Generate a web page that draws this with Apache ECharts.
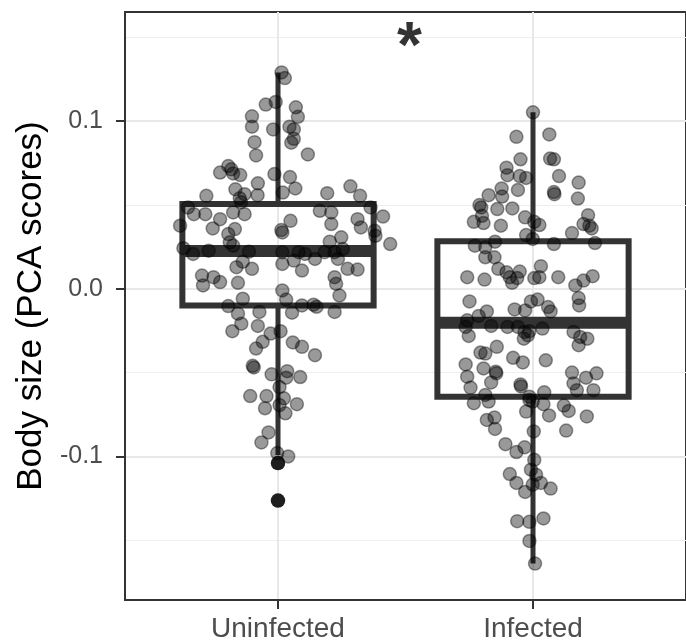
<!DOCTYPE html>
<html>
<head>
<meta charset="utf-8">
<script src="https://cdn.jsdelivr.net/npm/echarts@6/dist/echarts.min.js"></script>
<style>
  html, body { margin: 0; padding: 0; background: #fff; }
  #bodySizeChart { width: 686px; height: 643px; }
</style>
</head>
<body>
<div id="bodySizeChart"></div>
<script>
// groups on the x axis (positions 1 and 2)
const groups = ['Uninfected', 'Infected'];

// box statistics: [lower whisker, Q1, median, Q3, upper whisker]
const uninfectedBox = [-0.0990, -0.0100, 0.0225, 0.0505, 0.1290];
const infectedBox = [-0.1638, -0.0643, -0.0202, 0.0283, 0.1052];
const uninfectedOutliers = [-0.1039, -0.1262];

// jittered points: horizontal jitter offset and PCA score
const uninfectedJitter = [
  0.014, 0.027, -0.009, -0.048, 0.070, -0.102, 0.078, -0.102, -0.019, 0.045,
  0.062, 0.062, 0.052, -0.092, -0.086, 0.117, -0.195, -0.183, -0.227, -0.148,
  -0.176, -0.014, 0.047, -0.079, 0.068, -0.167, 0.284, 0.193, -0.281, -0.131,
  -0.080, 0.019, 0.322, -0.150, -0.145, -0.353, -0.330, -0.285, -0.384, -0.227,
  -0.256, -0.176, -0.131, -0.169, -0.195, -0.189, -0.176, -0.371, -0.333, -0.272,
  -0.114, 0.017, 0.013, 0.049, 0.164, 0.209, 0.209, 0.312, 0.325, 0.363,
  0.412, 0.379, 0.382, 0.440, 0.203, 0.248, 0.254, 0.222, 0.183, 0.145,
  0.106, 0.081, 0.062, 0.017, 0.017, 0.094, 0.235, 0.273, 0.312, 0.222,
  0.228, 0.241, -0.298, -0.294, -0.253, -0.227, -0.157, -0.163, -0.138, -0.102,
  0.017, 0.032, -0.138, -0.195, -0.157, -0.073, 0.094, 0.139, 0.151, 0.055,
  0.222, -0.144, -0.179, -0.079, -0.029, 0.010, -0.060, -0.086, 0.058, 0.094,
  0.145, -0.099, -0.095, -0.025, 0.036, 0.032, 0.087, 0.006, -0.109, -0.045,
  0.023, 0.006, 0.074, -0.051, 0.029, -0.037, -0.065, -0.003, 0.040
];
const uninfectedScores = [
  0.1290, 0.1256, 0.1114, 0.1098, 0.1082, 0.1028, 0.1025, 0.0966, 0.0950, 0.0966,
  0.0950, 0.0894, 0.0871, 0.0874, 0.0795, 0.0801, 0.0732, 0.0712, 0.0693, 0.0678,
  0.0688, 0.0684, 0.0666, 0.0629, 0.0598, 0.0593, 0.0611, 0.0570, 0.0554, 0.0564,
  0.0558, 0.0574, 0.0554, 0.0540, 0.0516, 0.0485, 0.0445, 0.0445, 0.0376, 0.0415,
  0.0360, 0.0455, 0.0445, 0.0356, 0.0326, 0.0277, 0.0257, 0.0242, 0.0208, 0.0227,
  0.0221, 0.0336, 0.0350, 0.0405, 0.0465, 0.0455, 0.0386, 0.0415, 0.0366, 0.0485,
  0.0431, 0.0346, 0.0316, 0.0267, 0.0281, 0.0307, 0.0237, 0.0218, 0.0218, 0.0178,
  0.0208, 0.0218, 0.0168, 0.0218, 0.0148, 0.0109, 0.0178, 0.0119, 0.0115, 0.0069,
  0.0030, -0.0040, 0.0079, 0.0020, 0.0069, 0.0040, 0.0036, 0.0129, 0.0162, 0.0119,
  -0.0010, -0.0064, -0.0059, -0.0103, -0.0148, -0.0138, -0.0099, -0.0095, -0.0107, -0.0142,
  -0.0138, -0.0208, -0.0253, -0.0221, -0.0267, -0.0253, -0.0316, -0.0356, -0.0320, -0.0346,
  -0.0396, -0.0459, -0.0469, -0.0510, -0.0491, -0.0530, -0.0526, -0.0586, -0.0639, -0.0639,
  -0.0653, -0.0693, -0.0688, -0.0712, -0.0742, -0.0856, -0.0916, -0.0979, -0.0999
];
const infectedJitter = [
  0.000, -0.065, 0.064, -0.049, 0.067, 0.082, -0.104, -0.100, -0.052, -0.027,
  0.102, 0.179, -0.123, -0.059, 0.082, 0.084, -0.174, -0.121, 0.176, -0.210,
  -0.203, -0.140, -0.081, -0.200, -0.232, -0.194, -0.031, 0.005, 0.025, 0.216,
  0.198, 0.221, 0.230, -0.126, 0.153, -0.027, -0.001, -0.149, -0.228, -0.187,
  0.082, 0.243, -0.151, -0.187, -0.136, -0.104, -0.091, -0.082, -0.052, -0.062,
  0.031, 0.005, 0.025, 0.099, -0.258, -0.190, 0.166, 0.198, 0.234, 0.179,
  0.181, -0.249, -0.072, -0.031, -0.008, 0.018, 0.059, 0.069, -0.181, -0.213,
  -0.258, -0.264, -0.252, -0.164, -0.100, -0.059, -0.033, -0.014, 0.037, -0.020,
  -0.036, 0.159, 0.185, 0.213, 0.179, -0.142, -0.206, -0.187, -0.078, -0.040,
  0.050, -0.264, -0.258, -0.245, -0.194, -0.146, -0.144, -0.164, -0.049, -0.047,
  0.153, 0.159, 0.208, 0.249, 0.172, 0.237, 0.044, -0.014, -0.187, -0.232,
  -0.174, -0.014, -0.001, 0.041, -0.027, 0.063, 0.121, 0.140, 0.211, -0.181,
  -0.151, -0.149, 0.003, 0.130, -0.108, -0.065, -0.033, 0.005, -0.008, 0.012,
  -0.091, -0.065, -0.001, 0.031, 0.069, -0.031, -0.062, -0.014, 0.041, -0.014,
  0.008
];
const infectedScores = [
  0.1052, 0.0906, 0.0920, 0.0772, 0.0776, 0.0772, 0.0722, 0.0677, 0.0672, 0.0661,
  0.0672, 0.0633, 0.0598, 0.0589, 0.0577, 0.0564, 0.0558, 0.0550, 0.0538, 0.0499,
  0.0485, 0.0475, 0.0479, 0.0435, 0.0399, 0.0392, 0.0426, 0.0399, 0.0380, 0.0439,
  0.0386, 0.0376, 0.0360, 0.0376, 0.0332, 0.0320, 0.0297, 0.0281, 0.0257, 0.0247,
  0.0267, 0.0273, 0.0188, 0.0188, 0.0119, 0.0099, 0.0069, 0.0036, 0.0103, 0.0064,
  0.0135, 0.0064, 0.0069, 0.0069, 0.0069, 0.0055, 0.0020, 0.0049, 0.0075, -0.0055,
  -0.0099, -0.0075, -0.0123, -0.0129, -0.0075, -0.0064, -0.0109, -0.0135, -0.0135, -0.0162,
  -0.0188, -0.0227, -0.0281, -0.0221, -0.0227, -0.0227, -0.0257, -0.0253, -0.0237, -0.0277,
  -0.0297, -0.0257, -0.0287, -0.0297, -0.0336, -0.0346, -0.0380, -0.0386, -0.0411, -0.0439,
  -0.0426, -0.0451, -0.0524, -0.0589, -0.0475, -0.0494, -0.0504, -0.0558, -0.0570, -0.0582,
  -0.0499, -0.0564, -0.0530, -0.0504, -0.0604, -0.0604, -0.0617, -0.0643, -0.0633, -0.0682,
  -0.0672, -0.0663, -0.0672, -0.0688, -0.0732, -0.0755, -0.0696, -0.0728, -0.0761, -0.0782,
  -0.0767, -0.0835, -0.0850, -0.0845, -0.0926, -0.0973, -0.0945, -0.1019, -0.1078, -0.1108,
  -0.1104, -0.1157, -0.1167, -0.1157, -0.1191, -0.1211, -0.1385, -0.1389, -0.1369, -0.1503,
  -0.1638
];

// y axis ticks and grid
const majorTicks = [-0.1, 0.0, 0.1];
const minorTicks = [-0.15, -0.05, 0.05, 0.15];

const BOX_WIDTH = 0.75;
const FONT = '"Liberation Sans", Arial, sans-serif';

function jitterPoints(pos, offsets, scores) {
  return scores.map((s, i) => [pos + offsets[i], s]);
}

function renderBox(params, api) {
  const x = api.value(0);
  const lo = api.coord([x, api.value(1)]);
  const q1 = api.coord([x, api.value(2)]);
  const md = api.coord([x, api.value(3)]);
  const q3 = api.coord([x, api.value(4)]);
  const hi = api.coord([x, api.value(5)]);
  const half = api.size([BOX_WIDTH, 0])[0] / 2;
  const ink = { stroke: '#333333', fill: null, lineWidth: 5 };
  return {
    type: 'group',
    children: [
      { type: 'line', shape: { x1: hi[0], y1: hi[1], x2: q3[0], y2: q3[1] }, style: ink },
      { type: 'line', shape: { x1: q1[0], y1: q1[1], x2: lo[0], y2: lo[1] }, style: ink },
      { type: 'rect', shape: { x: q3[0] - half, y: q3[1], width: half * 2, height: q1[1] - q3[1] },
        style: Object.assign({}, ink, { lineWidth: 6 }) },
      { type: 'line', shape: { x1: md[0] - half, y1: md[1], x2: md[0] + half, y2: md[1] },
        style: Object.assign({}, ink, { lineWidth: 12 }) }
    ]
  };
}

const chart = echarts.init(document.getElementById('bodySizeChart'), null, { renderer: 'canvas' });

const majorLine = { type: 'solid', width: 2, color: '#e8e8e8' };
const minorLine = { type: 'solid', width: 1.2, color: '#efefef' };
const gridLines = [].concat(
  majorTicks.map(v => ({ yAxis: v, lineStyle: majorLine })),
  minorTicks.map(v => ({ yAxis: v, lineStyle: minorLine })),
  groups.map((g, i) => ({ xAxis: i + 1, lineStyle: majorLine }))
);

const option = {
  animation: false,
  textStyle: { fontFamily: FONT },
  grid: {
    left: 125, right: -10, top: 12, bottom: 40,
    show: true, borderColor: '#333333', borderWidth: 2, backgroundColor: 'transparent'
  },
  xAxis: {
    type: 'value', min: 0.4, max: 2.6,
    axisLine: { show: true, onZero: false, lineStyle: { color: '#333333', width: 2 } },
    axisTick: { show: true, length: 9, customValues: [1, 2], lineStyle: { color: '#333333', width: 2 } },
    axisLabel: {
      customValues: [1, 2], margin: 15, fontSize: 28, color: '#4d4d4d', fontFamily: FONT,
      formatter: v => groups[Math.round(v) - 1]
    },
    splitLine: { show: false }
  },
  yAxis: {
    type: 'value', min: -0.1855, max: 0.165,
    name: 'Body size (PCA scores)', nameLocation: 'middle', nameGap: 75,
    nameTextStyle: { fontSize: 35, color: '#000', fontFamily: FONT },
    axisLine: { show: true, onZero: false, lineStyle: { color: '#333333', width: 2 } },
    axisTick: { show: true, length: 9, customValues: majorTicks, lineStyle: { color: '#333333', width: 2 } },
    axisLabel: {
      customValues: majorTicks, margin: 22, fontSize: 25, color: '#4d4d4d', fontFamily: FONT,
      formatter: v => v.toFixed(1)
    },
    splitLine: { show: false }
  },
  series: [
    {
      name: 'grid', type: 'line', data: [], z: 0,
      markLine: {
        silent: true, symbol: ['none', 'none'], label: { show: false }, z: 0, animation: false,
        lineStyle: { type: 'solid' }, data: gridLines
      }
    },
    {
      name: 'box', type: 'custom', z: 2,
      renderItem: renderBox,
      encode: { x: 0, y: [1, 2, 3, 4, 5] },
      data: [[1].concat(uninfectedBox), [2].concat(infectedBox)]
    },
    {
      name: 'outliers', type: 'scatter', z: 3, symbolSize: 14.5,
      itemStyle: { color: '#1e1e1e', opacity: 1 },
      data: uninfectedOutliers.map(v => [1, v])
    },
    {
      name: 'points', type: 'scatter', z: 4, symbolSize: 13,
      itemStyle: { color: 'rgba(0,0,0,0.5)', borderColor: 'rgba(0,0,0,0.5)', borderWidth: 1.5 },
      data: jitterPoints(1, uninfectedJitter, uninfectedScores)
        .concat(jitterPoints(2, infectedJitter, infectedScores))
    },
    {
      name: 'signif', type: 'scatter', z: 5, symbolSize: 1,
      itemStyle: { color: 'transparent' },
      label: {
        show: true, position: 'inside', formatter: '*', offset: [4, 12],
        fontSize: 64, fontWeight: 'bold', color: '#000', fontFamily: FONT
      },
      data: [[1.5, 0.15]]
    }
  ]
};

chart.setOption(option);
window.addEventListener('resize', () => chart.resize());
</script>
</body>
</html>
